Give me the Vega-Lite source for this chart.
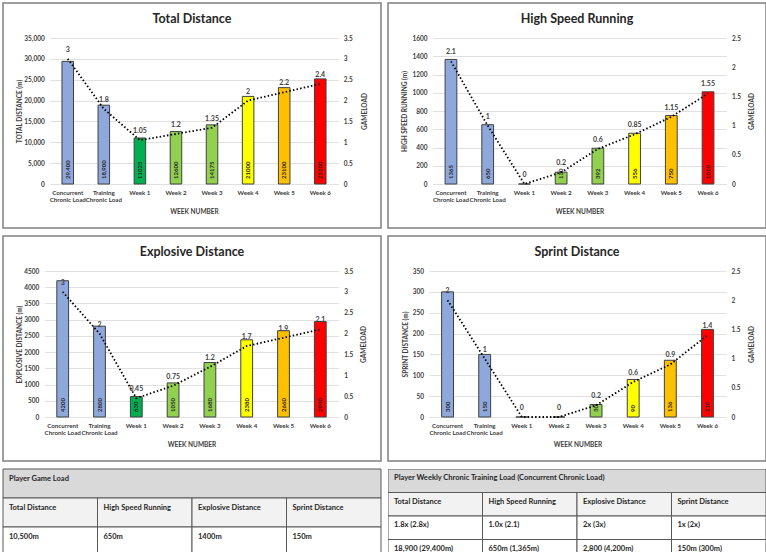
{
  "$schema": "https://vega.github.io/schema/vega-lite/v6.json",
  "padding": {"left": 2, "top": 2, "right": 0, "bottom": 0},
  "background": "white",
  "spacing": 6,
  "config": {
    "font": "Lato",
    "axis": {"labelFont": "Lato", "labelFontSize": 6.5, "labelFontWeight": "bold", "labelColor": "#404040", "titleFont": "Lato", "titleFontSize": 6.5, "titleFontWeight": "bold", "titleColor": "#404040", "domain": false, "ticks": false, "tickSize": 0, "gridColor": "#d9d9d9", "gridWidth": 0.8},
    "title": {"font": "Lato", "fontSize": 12.5, "fontWeight": "bold", "color": "#262626", "anchor": "middle", "frame": "group", "offset": -22}
  },
  "datasets": {
    "td": [
      {"cat": "Concurrent Chronic Load", "v": 29400, "lbl": "29,400", "g": 3},
      {"cat": "Training Chronic Load", "v": 18900, "lbl": "18,900", "g": 1.8},
      {"cat": "Week 1", "v": 11025, "lbl": "11025", "g": 1.05},
      {"cat": "Week 2", "v": 12600, "lbl": "12600", "g": 1.2},
      {"cat": "Week 3", "v": 14175, "lbl": "14175", "g": 1.35},
      {"cat": "Week 4", "v": 21000, "lbl": "21000", "g": 2},
      {"cat": "Week 5", "v": 23100, "lbl": "23100", "g": 2.2},
      {"cat": "Week 6", "v": 25200, "lbl": "25200", "g": 2.4}
    ],
    "hsr": [
      {"cat": "Concurrent Chronic Load", "v": 1365, "lbl": "1365", "g": 2.1},
      {"cat": "Training Chronic Load", "v": 650, "lbl": "650", "g": 1},
      {"cat": "Week 1", "v": 0, "lbl": "0", "g": 0},
      {"cat": "Week 2", "v": 130, "lbl": "130", "g": 0.2},
      {"cat": "Week 3", "v": 392, "lbl": "392", "g": 0.6},
      {"cat": "Week 4", "v": 556, "lbl": "556", "g": 0.85},
      {"cat": "Week 5", "v": 750, "lbl": "750", "g": 1.15},
      {"cat": "Week 6", "v": 1010, "lbl": "1010", "g": 1.55}
    ],
    "exp": [
      {"cat": "Concurrent Chronic Load", "v": 4200, "lbl": "4200", "g": 3},
      {"cat": "Training Chronic Load", "v": 2800, "lbl": "2800", "g": 2},
      {"cat": "Week 1", "v": 630, "lbl": "630", "g": 0.45},
      {"cat": "Week 2", "v": 1050, "lbl": "1050", "g": 0.75},
      {"cat": "Week 3", "v": 1680, "lbl": "1680", "g": 1.2},
      {"cat": "Week 4", "v": 2380, "lbl": "2380", "g": 1.7},
      {"cat": "Week 5", "v": 2660, "lbl": "2660", "g": 1.9},
      {"cat": "Week 6", "v": 2940, "lbl": "2940", "g": 2.1}
    ],
    "spr": [
      {"cat": "Concurrent Chronic Load", "v": 300, "lbl": "300", "g": 2},
      {"cat": "Training Chronic Load", "v": 150, "lbl": "150", "g": 1},
      {"cat": "Week 1", "v": 0, "lbl": "0", "g": 0},
      {"cat": "Week 2", "v": 0, "lbl": "0", "g": 0},
      {"cat": "Week 3", "v": 30, "lbl": "30", "g": 0.2},
      {"cat": "Week 4", "v": 90, "lbl": "90", "g": 0.6},
      {"cat": "Week 5", "v": 136, "lbl": "136", "g": 0.9},
      {"cat": "Week 6", "v": 210, "lbl": "210", "g": 1.4}
    ],
    "t1": [
      {"row": 0, "c0": 0, "c1": 4, "kind": "header", "text": "Player Game Load"},
      {"row": 1, "c0": 0, "c1": 1, "kind": "colhead", "text": "Total Distance"},
      {"row": 1, "c0": 1, "c1": 2, "kind": "colhead", "text": "High Speed Running"},
      {"row": 1, "c0": 2, "c1": 3, "kind": "colhead", "text": "Explosive Distance"},
      {"row": 1, "c0": 3, "c1": 4, "kind": "colhead", "text": "Sprint Distance"},
      {"row": 2, "c0": 0, "c1": 1, "kind": "value", "text": "10,500m"},
      {"row": 2, "c0": 1, "c1": 2, "kind": "value", "text": "650m"},
      {"row": 2, "c0": 2, "c1": 3, "kind": "value", "text": "1400m"},
      {"row": 2, "c0": 3, "c1": 4, "kind": "value", "text": "150m"}
    ],
    "t2": [
      {"row": 0, "c0": 0, "c1": 4, "kind": "header", "text": "Player Weekly Chronic Training Load (Concurrent Chronic Load)"},
      {"row": 1, "c0": 0, "c1": 1, "kind": "colhead", "text": "Total Distance"},
      {"row": 1, "c0": 1, "c1": 2, "kind": "colhead", "text": "High Speed Running"},
      {"row": 1, "c0": 2, "c1": 3, "kind": "colhead", "text": "Explosive Distance"},
      {"row": 1, "c0": 3, "c1": 4, "kind": "colhead", "text": "Sprint Distance"},
      {"row": 2, "c0": 0, "c1": 1, "kind": "value", "text": "1.8x (2.8x)"},
      {"row": 2, "c0": 1, "c1": 2, "kind": "value", "text": "1.0x (2.1)"},
      {"row": 2, "c0": 2, "c1": 3, "kind": "value", "text": "2x (3x)"},
      {"row": 2, "c0": 3, "c1": 4, "kind": "value", "text": "1x (2x)"},
      {"row": 3, "c0": 0, "c1": 1, "kind": "value", "text": "18,900 (29,400m)"},
      {"row": 3, "c0": 1, "c1": 2, "kind": "value", "text": "650m (1,365m)"},
      {"row": 3, "c0": 2, "c1": 3, "kind": "value", "text": "2,800 (4,200m)"},
      {"row": 3, "c0": 3, "c1": 4, "kind": "value", "text": "150m (300m)"}
    ]
  },
  "vconcat": [
    {
      "spacing": 5,
      "hconcat": [
        {
          "width": 378, "height": 225,
          "view": {"stroke": "#7f7f7f", "strokeWidth": 1.5, "fill": "white"},
          "title": {"text": "Total Distance"},
          "data": {"name": "td"},
          "encoding": {
            "x": {"field": "cat", "type": "nominal", "sort": null,
              "scale": {"range": [46.7, 335.3], "paddingInner": 0, "paddingOuter": 0},
              "axis": {"title": "WEEK NUMBER", "orient": "bottom", "offset": -44, "labelAngle": 0, "labelPadding": 5, "labelBaseline": "top", "labelLineHeight": 7, "labelFontSize": 6.2,
                "labelExpr": "indexof(datum.value, 'Chronic') > 0 ? [replace(datum.value, ' Chronic Load', ''), 'Chronic Load'] : datum.value",
                "titleX": 191, "titleY": 27, "titleBaseline": "middle", "titleAlign": "center"}}
          },
          "layer": [
            {
              "encoding": {"y": {"field": "v", "type": "quantitative",
                "scale": {"domain": [0, 35000], "range": [181, 35], "nice": false},
                "axis": {"title": "TOTAL DISTANCE (m)", "orient": "left", "offset": -46.7, "grid": true, "labelPadding": 5.5, "labelExpr": "format(datum.value, ',')", "values": [0, 5000, 10000, 15000, 20000, 25000, 30000, 35000], "titleX": -30, "titleY": 108, "titleAngle": 270, "titleBaseline": "middle", "titleAlign": "center"}}},
              "layer": [
                {"mark": {"type": "bar", "width": {"band": 0.32}, "stroke": "#404040", "strokeWidth": 1},
                  "encoding": {"color": {"field": "cat", "type": "nominal", "sort": null, "legend": null,
                    "scale": {"domain": ["Concurrent Chronic Load", "Training Chronic Load", "Week 1", "Week 2", "Week 3", "Week 4", "Week 5", "Week 6"], "range": ["#8FA8DC", "#8FA8DC", "#00B050", "#92D050", "#92D050", "#FFFF00", "#FFC000", "#FF0000"]}}}},
                {"transform": [{"filter": "datum.v > 0"}],
                  "mark": {"type": "text", "angle": 270, "align": "left", "baseline": "middle", "dx": 5, "fontSize": 6, "fontWeight": "bold", "color": "#262626"},
                  "encoding": {"y": {"datum": 0, "type": "quantitative"}, "text": {"field": "lbl"}}}
              ]
            },
            {
              "encoding": {"y": {"field": "g", "type": "quantitative",
                "scale": {"domain": [0, 3.5], "range": [181, 35], "nice": false},
                "axis": {"title": "GAMELOAD", "orient": "right", "offset": -42.7, "grid": false, "labelPadding": 5, "labelExpr": "'' + datum.value", "values": [0, 0.5, 1, 1.5, 2, 2.5, 3, 3.5], "titleX": 26, "titleY": 108, "titleAngle": 270, "titleBaseline": "middle", "titleAlign": "center"}}},
              "layer": [
                {"mark": {"type": "line", "color": "black", "strokeDash": [1.5, 2.2], "strokeWidth": 1.8}},
                {"mark": {"type": "text", "dy": -9, "fontSize": 7, "fontWeight": "bold", "color": "#404040"},
                  "encoding": {"text": {"field": "g", "type": "nominal"}}}
              ]
            }
          ],
          "resolve": {"scale": {"y": "independent"}, "axis": {"y": "independent"}}
        },
        {
          "width": 378, "height": 225,
          "view": {"stroke": "#7f7f7f", "strokeWidth": 1.5, "fill": "white"},
          "title": {"text": "High Speed Running"},
          "data": {"name": "hsr"},
          "encoding": {
            "x": {"field": "cat", "type": "nominal", "sort": null,
              "scale": {"range": [44.6, 338.4], "paddingInner": 0, "paddingOuter": 0},
              "axis": {"title": "WEEK NUMBER", "orient": "bottom", "offset": -44, "labelAngle": 0, "labelPadding": 5, "labelBaseline": "top", "labelLineHeight": 7, "labelFontSize": 6.2,
                "labelExpr": "indexof(datum.value, 'Chronic') > 0 ? [replace(datum.value, ' Chronic Load', ''), 'Chronic Load'] : datum.value",
                "titleX": 191.5, "titleY": 27, "titleBaseline": "middle", "titleAlign": "center"}}
          },
          "layer": [
            {
              "encoding": {"y": {"field": "v", "type": "quantitative",
                "scale": {"domain": [0, 1600], "range": [181, 35], "nice": false},
                "axis": {"title": "HIGH SPEED RUNNING (m)", "orient": "left", "offset": -44.6, "grid": true, "labelPadding": 5.5, "labelExpr": "'' + datum.value", "values": [0, 200, 400, 600, 800, 1000, 1200, 1400, 1600], "titleX": -28, "titleY": 108, "titleAngle": 270, "titleBaseline": "middle", "titleAlign": "center"}}},
              "layer": [
                {"mark": {"type": "bar", "width": {"band": 0.32}, "stroke": "#404040", "strokeWidth": 1},
                  "encoding": {"color": {"field": "cat", "type": "nominal", "sort": null, "legend": null,
                    "scale": {"domain": ["Concurrent Chronic Load", "Training Chronic Load", "Week 1", "Week 2", "Week 3", "Week 4", "Week 5", "Week 6"], "range": ["#8FA8DC", "#8FA8DC", "#00B050", "#92D050", "#92D050", "#FFFF00", "#FFC000", "#FF0000"]}}}},
                {"transform": [{"filter": "datum.v > 0"}],
                  "mark": {"type": "text", "angle": 270, "align": "left", "baseline": "middle", "dx": 5, "fontSize": 6, "fontWeight": "bold", "color": "#262626"},
                  "encoding": {"y": {"datum": 0, "type": "quantitative"}, "text": {"field": "lbl"}}}
              ]
            },
            {
              "encoding": {"y": {"field": "g", "type": "quantitative",
                "scale": {"domain": [0, 2.5], "range": [181, 35], "nice": false},
                "axis": {"title": "GAMELOAD", "orient": "right", "offset": -39.6, "grid": false, "labelPadding": 5, "labelExpr": "'' + datum.value", "values": [0, 0.5, 1, 1.5, 2, 2.5], "titleX": 25, "titleY": 108, "titleAngle": 270, "titleBaseline": "middle", "titleAlign": "center"}}},
              "layer": [
                {"mark": {"type": "line", "color": "black", "strokeDash": [1.5, 2.2], "strokeWidth": 1.8}},
                {"mark": {"type": "text", "dy": -9, "fontSize": 7, "fontWeight": "bold", "color": "#404040"},
                  "encoding": {"text": {"field": "g", "type": "nominal"}}}
              ]
            }
          ],
          "resolve": {"scale": {"y": "independent"}, "axis": {"y": "independent"}}
        }
      ]
    },
    {
      "spacing": 5,
      "hconcat": [
        {
          "width": 378, "height": 225,
          "view": {"stroke": "#7f7f7f", "strokeWidth": 1.5, "fill": "white"},
          "title": {"text": "Explosive Distance"},
          "data": {"name": "exp"},
          "encoding": {
            "x": {"field": "cat", "type": "nominal", "sort": null,
              "scale": {"range": [41.3, 335.7], "paddingInner": 0, "paddingOuter": 0},
              "axis": {"title": "WEEK NUMBER", "orient": "bottom", "offset": -44, "labelAngle": 0, "labelPadding": 5, "labelBaseline": "top", "labelLineHeight": 7, "labelFontSize": 6.2,
                "labelExpr": "indexof(datum.value, 'Chronic') > 0 ? [replace(datum.value, ' Chronic Load', ''), 'Chronic Load'] : datum.value",
                "titleX": 188.5, "titleY": 27, "titleBaseline": "middle", "titleAlign": "center"}}
          },
          "layer": [
            {
              "encoding": {"y": {"field": "v", "type": "quantitative",
                "scale": {"domain": [0, 4500], "range": [181, 35], "nice": false},
                "axis": {"title": "EXPLOSIVE DISTANCE (m)", "orient": "left", "offset": -41.3, "grid": true, "labelPadding": 5.5, "labelExpr": "'' + datum.value", "values": [0, 500, 1000, 1500, 2000, 2500, 3000, 3500, 4000, 4500], "titleX": -25, "titleY": 108, "titleAngle": 270, "titleBaseline": "middle", "titleAlign": "center"}}},
              "layer": [
                {"mark": {"type": "bar", "width": {"band": 0.32}, "stroke": "#404040", "strokeWidth": 1},
                  "encoding": {"color": {"field": "cat", "type": "nominal", "sort": null, "legend": null,
                    "scale": {"domain": ["Concurrent Chronic Load", "Training Chronic Load", "Week 1", "Week 2", "Week 3", "Week 4", "Week 5", "Week 6"], "range": ["#8FA8DC", "#8FA8DC", "#00B050", "#92D050", "#92D050", "#FFFF00", "#FFC000", "#FF0000"]}}}},
                {"transform": [{"filter": "datum.v > 0"}],
                  "mark": {"type": "text", "angle": 270, "align": "left", "baseline": "middle", "dx": 5, "fontSize": 6, "fontWeight": "bold", "color": "#262626"},
                  "encoding": {"y": {"datum": 0, "type": "quantitative"}, "text": {"field": "lbl"}}}
              ]
            },
            {
              "encoding": {"y": {"field": "g", "type": "quantitative",
                "scale": {"domain": [0, 3.5], "range": [181, 35], "nice": false},
                "axis": {"title": "GAMELOAD", "orient": "right", "offset": -42.3, "grid": false, "labelPadding": 5, "labelExpr": "'' + datum.value", "values": [0, 0.5, 1, 1.5, 2, 2.5, 3, 3.5], "titleX": 25, "titleY": 108, "titleAngle": 270, "titleBaseline": "middle", "titleAlign": "center"}}},
              "layer": [
                {"mark": {"type": "line", "color": "black", "strokeDash": [1.5, 2.2], "strokeWidth": 1.8}},
                {"mark": {"type": "text", "dy": -9, "fontSize": 7, "fontWeight": "bold", "color": "#404040"},
                  "encoding": {"text": {"field": "g", "type": "nominal"}}}
              ]
            }
          ],
          "resolve": {"scale": {"y": "independent"}, "axis": {"y": "independent"}}
        },
        {
          "width": 378, "height": 225,
          "view": {"stroke": "#7f7f7f", "strokeWidth": 1.5, "fill": "white"},
          "title": {"text": "Sprint Distance"},
          "data": {"name": "spr"},
          "encoding": {
            "x": {"field": "cat", "type": "nominal", "sort": null,
              "scale": {"range": [41, 338], "paddingInner": 0, "paddingOuter": 0},
              "axis": {"title": "WEEK NUMBER", "orient": "bottom", "offset": -44, "labelAngle": 0, "labelPadding": 5, "labelBaseline": "top", "labelLineHeight": 7, "labelFontSize": 6.2,
                "labelExpr": "indexof(datum.value, 'Chronic') > 0 ? [replace(datum.value, ' Chronic Load', ''), 'Chronic Load'] : datum.value",
                "titleX": 189.5, "titleY": 27, "titleBaseline": "middle", "titleAlign": "center"}}
          },
          "layer": [
            {
              "encoding": {"y": {"field": "v", "type": "quantitative",
                "scale": {"domain": [0, 350], "range": [181, 35], "nice": false},
                "axis": {"title": "SPRINT DISTANCE  (m)", "orient": "left", "offset": -41, "grid": true, "labelPadding": 5.5, "labelExpr": "'' + datum.value", "values": [0, 50, 100, 150, 200, 250, 300, 350], "titleX": -24, "titleY": 108, "titleAngle": 270, "titleBaseline": "middle", "titleAlign": "center"}}},
              "layer": [
                {"mark": {"type": "bar", "width": {"band": 0.32}, "stroke": "#404040", "strokeWidth": 1},
                  "encoding": {"color": {"field": "cat", "type": "nominal", "sort": null, "legend": null,
                    "scale": {"domain": ["Concurrent Chronic Load", "Training Chronic Load", "Week 1", "Week 2", "Week 3", "Week 4", "Week 5", "Week 6"], "range": ["#8FA8DC", "#8FA8DC", "#00B050", "#92D050", "#92D050", "#FFFF00", "#FFC000", "#FF0000"]}}}},
                {"transform": [{"filter": "datum.v > 0"}],
                  "mark": {"type": "text", "angle": 270, "align": "left", "baseline": "middle", "dx": 5, "fontSize": 6, "fontWeight": "bold", "color": "#262626"},
                  "encoding": {"y": {"datum": 0, "type": "quantitative"}, "text": {"field": "lbl"}}}
              ]
            },
            {
              "encoding": {"y": {"field": "g", "type": "quantitative",
                "scale": {"domain": [0, 2.5], "range": [181, 35], "nice": false},
                "axis": {"title": "GAMELOAD", "orient": "right", "offset": -40, "grid": false, "labelPadding": 5, "labelExpr": "'' + datum.value", "values": [0, 0.5, 1, 1.5, 2, 2.5], "titleX": 25, "titleY": 108, "titleAngle": 270, "titleBaseline": "middle", "titleAlign": "center"}}},
              "layer": [
                {"mark": {"type": "line", "color": "black", "strokeDash": [1.5, 2.2], "strokeWidth": 1.8}},
                {"mark": {"type": "text", "dy": -9, "fontSize": 7, "fontWeight": "bold", "color": "#404040"},
                  "encoding": {"text": {"field": "g", "type": "nominal"}}}
              ]
            }
          ],
          "resolve": {"scale": {"y": "independent"}, "axis": {"y": "independent"}}
        }
      ]
    },
    {
      "spacing": 6,
      "hconcat": [
        {
          "width": 378, "height": 87,
          "view": {"stroke": null},
          "data": {"name": "t1"},
          "layer": [
            {"mark": {"type": "rect", "stroke": "#595959", "strokeWidth": 1},
              "encoding": {
                "x": {"field": "c0", "type": "quantitative", "scale": {"domain": [0, 4], "range": [0, 378]}, "axis": null},
                "x2": {"field": "c1"},
                "y": {"field": "row", "type": "ordinal", "scale": {"type": "band", "paddingInner": 0, "paddingOuter": 0, "range": [0, 87]}, "axis": null},
                "fill": {"field": "kind", "type": "nominal", "legend": null, "scale": {"domain": ["header", "colhead", "value"], "range": ["#d9d9d9", "#f2f2f2", "#ffffff"]}}}},
            {"mark": {"type": "text", "align": "left", "baseline": "middle", "dx": 6, "dy": 10, "fontSize": 7.5, "fontWeight": "bold", "color": "#262626"},
              "encoding": {
                "x": {"field": "c0", "type": "quantitative"},
                "y": {"field": "row", "type": "ordinal", "bandPosition": 0},
                "text": {"field": "text"}}}
          ]
        },
        {
          "width": 378, "height": 87,
          "view": {"stroke": null},
          "data": {"name": "t2"},
          "layer": [
            {"mark": {"type": "rect", "stroke": "#595959", "strokeWidth": 1, "clip": true},
              "encoding": {
                "x": {"field": "c0", "type": "quantitative", "scale": {"domain": [0, 4], "range": [0, 378]}, "axis": null},
                "x2": {"field": "c1"},
                "y": {"field": "row", "type": "ordinal", "scale": {"type": "band", "paddingInner": 0, "paddingOuter": 0, "range": [0, 94]}, "axis": null},
                "fill": {"field": "kind", "type": "nominal", "legend": null, "scale": {"domain": ["header", "colhead", "value"], "range": ["#d9d9d9", "#f2f2f2", "#ffffff"]}}}},
            {"mark": {"type": "text", "align": "left", "baseline": "middle", "dx": 6, "dy": 9, "fontSize": 7.5, "fontWeight": "bold", "color": "#262626"},
              "encoding": {
                "x": {"field": "c0", "type": "quantitative"},
                "y": {"field": "row", "type": "ordinal", "bandPosition": 0},
                "text": {"field": "text"}}}
          ]
        }
      ]
    }
  ]
}
